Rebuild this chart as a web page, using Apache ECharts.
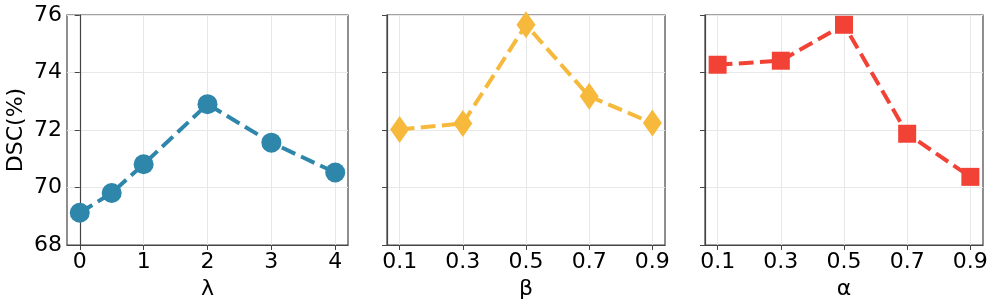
<!DOCTYPE html>
<html><head><meta charset="utf-8">
<script src="https://cdn.jsdelivr.net/npm/echarts@6/dist/echarts.min.js"></script>
<style>html,body{margin:0;padding:0;background:#fff}#c{width:996px;height:308px}</style>
</head><body><div id="c"></div>
<script>
const lambdaX = [0, 0.5, 1, 2, 3, 4];
const lambdaDSC = [69.12, 69.81, 70.81, 72.90, 71.56, 70.52];
const lambdaTicks = [0, 1, 2, 3, 4];
const betaX = [0.1, 0.3, 0.5, 0.7, 0.9];
const betaDSC = [72.02, 72.23, 75.66, 73.17, 72.24];
const alphaX = [0.1, 0.3, 0.5, 0.7, 0.9];
const alphaDSC = [74.27, 74.41, 75.66, 71.87, 70.37];
const fracTicks = [0.1, 0.3, 0.5, 0.7, 0.9];
const yTicks = [68, 70, 72, 74, 76];
const axisNames = ['λ', 'β', 'α'];
const colors = ['#2E86AB', '#F6B93B', '#F24236'];

const FONT = 'DejaVu Sans';
const spine = '#444';
const grids = [
  {left: 67, top: 15, width: 281, height: 230},
  {left: 387, top: 15, width: 278, height: 230},
  {left: 705, top: 15, width: 278, height: 230}
].map(g => Object.assign(g, {show: true, borderColor: spine, borderWidth: 1.2, backgroundColor: 'transparent'}));

function xAx(i, min, max, ticks) {
  return {
    type: 'value', gridIndex: i, min: min, max: max,
    name: axisNames[i], nameLocation: 'middle', nameGap: 31,
    nameTextStyle: {fontFamily: FONT, fontSize: 22, color: '#000'},
    axisLine: {show: true, onZero: false, lineStyle: {color: spine, width: 1.2}},
    axisTick: {show: true, length: 5, customValues: ticks, lineStyle: {color: spine}},
    axisLabel: {customValues: ticks, fontFamily: FONT, fontSize: 22, color: '#000', margin: 6},
    splitLine: {show: true, lineStyle: {color: '#e8e8e8', width: 1}}
  };
}
function yAx(i) {
  return {
    type: 'value', gridIndex: i, min: yTicks[0], max: yTicks[yTicks.length - 1], interval: 2,
    name: i === 0 ? 'DSC(%)' : '', nameLocation: 'middle', nameGap: 40,
    nameTextStyle: {fontFamily: FONT, fontSize: 22, color: '#000'},
    axisLine: {show: true, lineStyle: {color: spine, width: 1.2}},
    axisTick: {show: true, length: 5, lineStyle: {color: spine}},
    axisLabel: {show: i === 0, fontFamily: FONT, fontSize: 22, color: '#000', margin: 5},
    splitLine: {show: true, lineStyle: {color: '#e8e8e8', width: 1}}
  };
}
function ser(i, xs, ys, symbol, size) {
  return {
    type: 'line', xAxisIndex: i, yAxisIndex: i,
    data: xs.map((x, k) => [x, ys[k]]),
    symbol: symbol, symbolSize: size, showSymbol: true,
    lineStyle: {color: colors[i], width: 4, type: [14.8, 6.4]},
    itemStyle: {color: colors[i], borderWidth: 0},
    z: 3, animation: false
  };
}
const chart = echarts.init(document.getElementById('c'), null, {renderer: 'canvas'});
chart.setOption({
  animation: false,
  grid: grids,
  xAxis: [xAx(0, -0.2, 4.2, lambdaTicks), xAx(1, 0.06, 0.94, fracTicks), xAx(2, 0.06, 0.94, fracTicks)],
  yAxis: [yAx(0), yAx(1), yAx(2)],
  series: [
    ser(0, lambdaX, lambdaDSC, 'circle', 20),
    ser(1, betaX, betaDSC, 'diamond', [19, 27]),
    ser(2, alphaX, alphaDSC, 'rect', 18)
  ]
});
</script></body></html>
